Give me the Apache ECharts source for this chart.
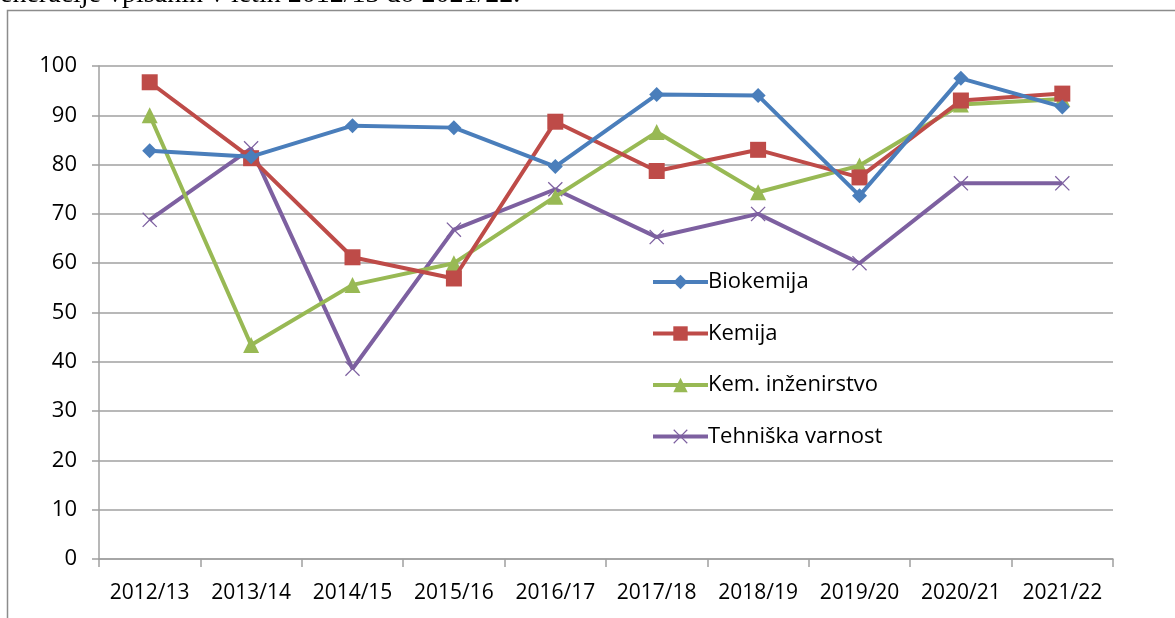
<!DOCTYPE html>
<html>
<head>
<meta charset="utf-8">
<script src="https://cdn.jsdelivr.net/npm/echarts@6/dist/echarts.min.js"></script>
<style>
    html, body { margin: 0; padding: 0; background: #fff; }
    #chart { width: 1175px; height: 618px; }
</style>
</head>
<body>
<div id="chart"></div>
<script>
const years = ["2012/13", "2013/14", "2014/15", "2015/16", "2016/17",
    "2017/18", "2018/19", "2019/20", "2020/21", "2021/22"];

const biokemija = [82.8, 81.6, 87.9, 87.5, 79.6, 94.2, 94.0, 73.7, 97.5, 91.7];
const kemija = [96.7, 81.3, 61.2, 56.9, 88.7, 78.7, 83.0, 77.4, 93.0, 94.4];
const kemInzenirstvo = [90.0, 43.4, 55.6, 60.0, 73.5, 86.6, 74.4, 79.8, 92.2, 93.3];
const tehniskaVarnost = [68.8, 83.3, 38.6, 66.8, 75.0, 65.3, 70.0, 60.0, 76.2, 76.2];

const seriesNames = ["Biokemija", "Kemija", "Kem. inženirstvo", "Tehniška varnost"];
const seriesData = [biokemija, kemija, kemInzenirstvo, tehniskaVarnost];

const colors = ["#4A7EBB", "#BE4B48", "#98B954", "#7D60A0"];
const crossPath = "path://M0,0.6 L0.6,0 L5,4.4 L9.4,0 L10,0.6 L5.6,5 L10,9.4 L9.4,10 L5,5.6 L0.6,10 L0,9.4 L4.4,5 Z";
const symbols = ["diamond", "rect", "triangle", crossPath];
const symbolSizes = [15, 16, 16, 15];

const fontFamily = "'Open Sans', sans-serif";

let chartDom = document.getElementById("chart");
let myChart = echarts.init(chartDom);

let series = [];
let legends = [];
for (let i = 0; i < seriesNames.length; i++) {
    series.push({
        name: seriesNames[i],
        type: "line",
        data: seriesData[i],
        symbol: symbols[i],
        symbolSize: symbolSizes[i],
        showAllSymbol: true,
        lineStyle: { width: 4, color: colors[i] },
        itemStyle: { color: colors[i] },
        emphasis: { disabled: true },
        z: 10 - i,
    });
    legends.push({
        data: [seriesNames[i]],
        left: 646,
        top: 266 + i * 51.5,
        itemWidth: 55,
        itemHeight: 18,
        itemGap: 0,
        selectedMode: false,
        lineStyle: { width: 4 },
        textStyle: {
            fontFamily,
            fontSize: 22,
            color: "#000",
            padding: [0, 0, 0, -5],
        },
    });
}

let option = {
    color: colors,
    animation: false,
    graphic: [
        {
            type: "rect",
            shape: { x: 7.5, y: 10.5, width: 1200, height: 640 },
            style: { fill: "none", stroke: "#8c8c8c", lineWidth: 1.5 },
            silent: true,
        },
        {
            type: "text",
            left: -14,
            top: -19,
            style: {
                text: "generacije vpisanih v letih 2012/13 do 2021/22.",
                font: "28px 'Liberation Serif', serif",
                fill: "#000",
            },
            silent: true,
        },
    ],
    legend: legends,
    grid: {
        left: 99,
        right: 62,
        top: 66,
        bottom: 59,
        containLabel: false,
    },
    xAxis: {
        type: "category",
        data: years,
        boundaryGap: true,
        axisLine: { lineStyle: { color: "#a0a0a0", width: 1.5 } },
        axisTick: {
            show: true,
            alignWithLabel: false,
            length: 8,
            lineStyle: { color: "#a0a0a0", width: 1.5 },
        },
        axisLabel: {
            fontFamily,
            fontSize: 21,
            color: "#000",
            margin: 24,
            interval: 0,
        },
    },
    yAxis: {
        type: "value",
        min: 0,
        max: 100,
        interval: 10,
        axisLine: { show: true, lineStyle: { color: "#a0a0a0", width: 1.5 } },
        axisTick: {
            show: true,
            length: 7,
            lineStyle: { color: "#a0a0a0", width: 1.5 },
        },
        splitLine: { lineStyle: { color: "#a0a0a0", width: 1.5 } },
        axisLabel: {
            fontFamily,
            fontSize: 22,
            color: "#000",
            margin: 22,
        },
    },
    series,
};

option && myChart.setOption(option);
</script>
</body>
</html>
